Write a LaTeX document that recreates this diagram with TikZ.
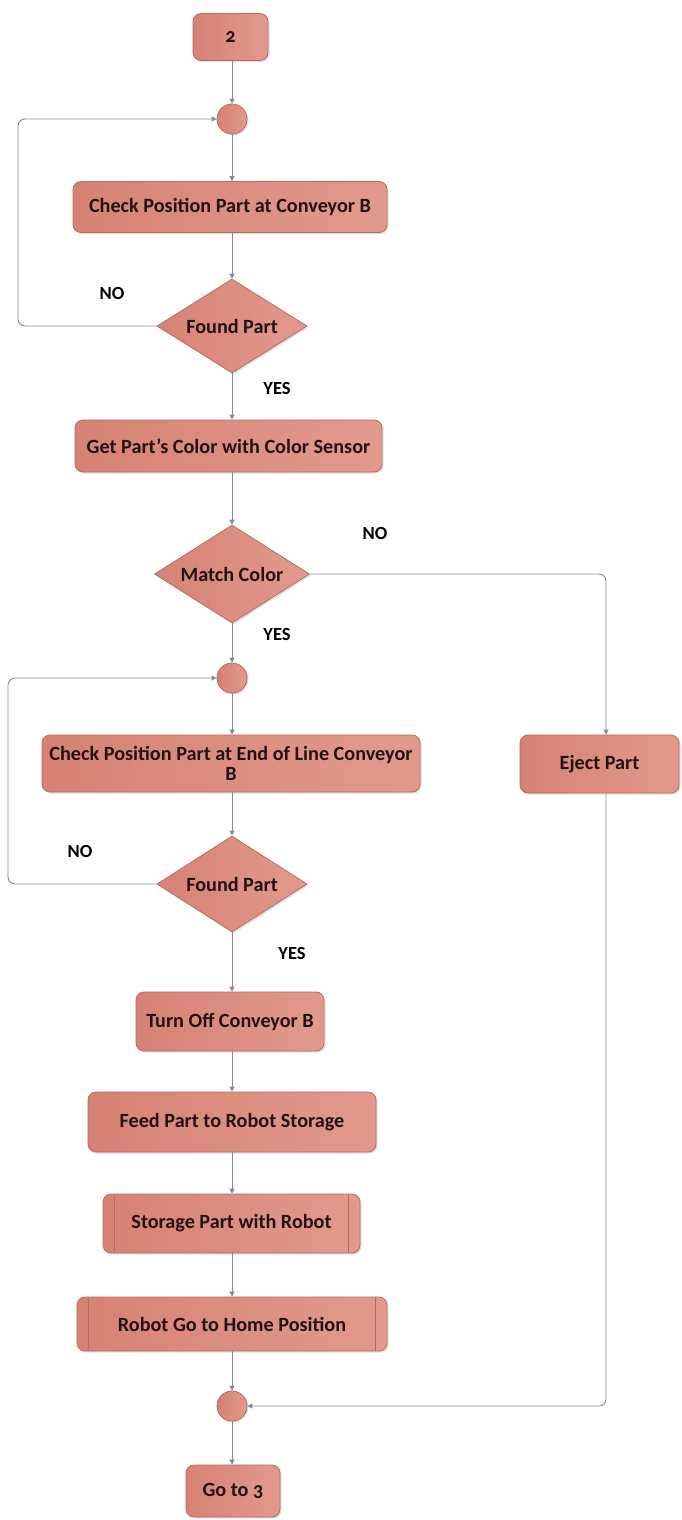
\documentclass[tikz,border=0pt]{standalone}
\usepackage{fontspec}
\setmainfont{Carlito}[Numbers=OldStyle]
\usetikzlibrary{shapes.geometric,arrows.meta,shadows}
\definecolor{boxA}{RGB}{214,130,116}
\definecolor{boxB}{RGB}{226,154,141}
\definecolor{brd}{RGB}{186,106,96}
\definecolor{txt}{RGB}{35,18,18}
\definecolor{conn}{RGB}{128,138,158}
\tikzset{
  base/.style={draw=brd, line width=0.8pt, left color=boxA, right color=boxB,
    text=txt, font=\bfseries\fontsize{20.2}{22}\selectfont, inner sep=0pt,
    drop shadow={opacity=0.25, shadow xshift=1.5pt, shadow yshift=-1.5pt}},
  proc/.style={base, rectangle, rounded corners=8pt},
  dec/.style={base, diamond, aspect=1.6},
  junc/.style={base, circle, minimum size=30pt},
  lbl/.style={text=black, font=\bfseries\fontsize{18.5}{20}\selectfont},
  conline/.style={draw=conn, line width=0.9pt},
  arr/.style={conline, -{Triangle[width=5pt,length=5pt]}},
}
\begin{document}
\begin{tikzpicture}[x=1pt,y=-1pt]
\useasboundingbox (0,0) rectangle (682,1520);
% nodes
\node[proc, minimum width=75pt, minimum height=47pt] (n2) at (230.5,37) {2};
\node[junc] (c1) at (232,119) {};
\node[proc, minimum width=314pt, minimum height=51pt] (chk1) at (230,207) {Check Position Part at Conveyor B};
\node[dec, minimum width=150pt, minimum height=94pt] (d1) at (232,326) {Found Part};
\node[proc, minimum width=307pt, minimum height=52pt] (get) at (228.5,446) {Get Part’s Color with Color Sensor};
\node[dec, minimum width=155pt, minimum height=98pt] (d2) at (232,574) {Match Color};
\node[junc] (c2) at (232,678) {};
\node[proc, minimum width=378pt, minimum height=57pt, align=center] (chk2) at (231,763.5) {Check Position Part at End of Line Conveyor\\[-2pt]B};
\node[proc, minimum width=159pt, minimum height=58pt] (eject) at (599.5,764) {Eject Part};
\node[dec, minimum width=150pt, minimum height=96pt] (d3) at (232,884) {Found Part};
\node[proc, minimum width=188pt, minimum height=59pt] (turn) at (230,1021.5) {Turn Off Conveyor B};
\node[proc, minimum width=288pt, minimum height=60pt] (feed) at (232,1122) {Feed Part to Robot Storage};
\node[proc, minimum width=257pt, minimum height=59pt] (stor) at (231.5,1223.5) {Storage Part with Robot};
\node[proc, minimum width=310pt, minimum height=54pt] (robot) at (232,1324) {Robot Go to Home Position};
\node[junc] (c3) at (232,1406) {};
\node[proc, minimum width=94pt, minimum height=52pt] (go3) at (233,1491) {Go to 3};
% predefined-process side bars
\draw[brd, line width=0.8pt] ([xshift=12pt]stor.north west) -- ([xshift=12pt]stor.south west);
\draw[brd, line width=0.8pt] ([xshift=-12pt]stor.north east) -- ([xshift=-12pt]stor.south east);
\draw[brd, line width=0.8pt] ([xshift=12pt]robot.north west) -- ([xshift=12pt]robot.south west);
\draw[brd, line width=0.8pt] ([xshift=-12pt]robot.north east) -- ([xshift=-12pt]robot.south east);
% coordinates
\coordinate (ej) at (606,764);
% connectors
\draw[arr] (n2.south -| c1) -- (c1);
\draw[arr] (c1) -- (chk1.north -| c1);
\draw[arr] (chk1.south -| d1) -- (d1);
\draw[arr, rounded corners=7pt] (d1.west) -| (18,119) -- (c1.west);
\draw[arr] (d1.south) -- (get.north -| d1);
\draw[arr] (get.south -| d2) -- (d2);
\draw[arr, rounded corners=7pt] (d2.east) -| (ej |- eject.north);
\draw[arr] (d2.south) -- (c2);
\draw[arr] (c2) -- (chk2.north -| c2);
\draw[arr] (chk2.south -| d3) -- (d3);
\draw[arr, rounded corners=7pt] (d3.west) -| (8,678) -- (c2.west);
\draw[arr] (d3.south) -- (turn.north -| d3);
\draw[arr] (turn.south -| c3) -- (feed.north -| c3);
\draw[arr] (feed.south -| c3) -- (stor.north -| c3);
\draw[arr] (stor.south -| c3) -- (robot.north -| c3);
\draw[arr] (robot.south -| c3) -- (c3);
\draw[arr, rounded corners=7pt] (ej |- eject.south) |- (c3.east);
\draw[arr] (c3) -- (go3.north -| c3);
% labels
\node[lbl] (no1) at (112,293) {NO};
\node[lbl] (yes1) at (277,388) {YES};
\node[lbl] (no2) at (375,533) {NO};
\node[lbl] (yes2) at (277,634) {YES};
\node[lbl] (no3) at (80,851) {NO};
\node[lbl] (yes3) at (292,953) {YES};
\end{tikzpicture}
\end{document}
